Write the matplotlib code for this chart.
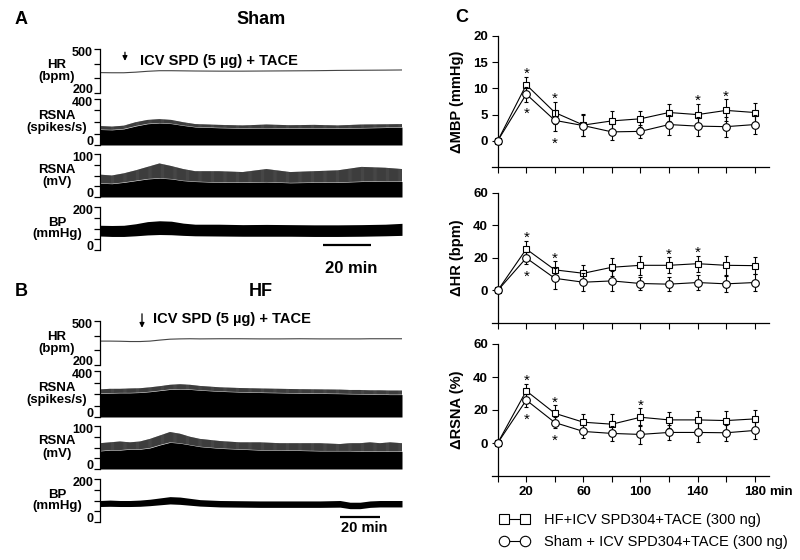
import matplotlib
matplotlib.use("Agg")
import matplotlib.pyplot as plt
from matplotlib.lines import Line2D
import numpy as np

plt.rcParams['font.family'] = ['Liberation Sans', 'DejaVu Sans']
plt.rcParams['font.weight'] = 'bold'
plt.rcParams['axes.labelweight'] = 'bold'
plt.rcParams['axes.linewidth'] = 0.9
plt.rcParams['hatch.linewidth'] = 0.5

W, H = 800, 560

# Raw recordings, envelopes --------------------------------------------------
sham_t = [0, 5, 10, 15, 20, 25, 30, 35, 40, 50, 60, 70, 80, 90, 100, 110, 120, 127]
sham_hr = [339, 338, 338, 342, 348, 352, 352, 351, 350, 349, 349, 350, 351, 352, 354, 355, 356, 357]
sham_sp_core = [135, 132, 140, 165, 185, 192, 186, 170, 157, 150, 146, 148, 145, 147, 145, 148, 152, 155]
sham_sp_peak = [165, 160, 168, 198, 218, 225, 218, 198, 182, 175, 170, 178, 172, 175, 170, 178, 180, 182]
sham_mv_core = [32, 31, 34, 38, 42, 44, 42, 38, 36, 34, 34, 35, 33, 34, 34, 36, 37, 36]
sham_mv_peak = [52, 50, 55, 62, 70, 78, 72, 65, 60, 60, 58, 65, 58, 60, 62, 70, 68, 65]
sham_bp_hi = [115, 114, 115, 122, 132, 136, 134, 125, 120, 120, 118, 119, 118, 117, 117, 118, 120, 124]
sham_bp_lo = [65, 63, 63, 66, 70, 72, 71, 68, 66, 65, 64, 64, 64, 63, 63, 64, 66, 68]

hf_t = [0, 5, 10, 15, 20, 25, 30, 35, 40, 45, 50, 60, 70, 80, 90, 100, 110, 120, 125, 130, 135, 140, 145, 151]
hf_hr = [363, 363, 362, 360, 360, 363, 370, 376, 378, 379, 378, 379, 379, 378, 378, 379, 378, 378, 378, 378, 379, 379, 379, 379]
hf_sp_core = [205, 208, 210, 210, 213, 220, 230, 240, 243, 240, 233, 223, 217, 213, 210, 207, 205, 203, 201, 200, 198, 197, 195, 195]
hf_sp_peak = [240, 245, 245, 248, 250, 258, 268, 280, 285, 280, 270, 258, 252, 248, 245, 242, 240, 238, 235, 235, 232, 232, 230, 230]
hf_mv_core = [42, 44, 44, 46, 46, 49, 56, 62, 60, 56, 52, 48, 46, 44, 44, 43, 42, 42, 42, 41, 41, 41, 41, 41]
hf_mv_peak = [60, 62, 64, 62, 64, 70, 78, 86, 82, 75, 70, 65, 62, 62, 60, 60, 60, 58, 60, 60, 62, 60, 62, 60]
hf_bp_hi = [100, 102, 100, 100, 102, 106, 112, 118, 116, 110, 104, 100, 99, 98, 98, 98, 98, 100, 92, 92, 98, 100, 100, 100]
hf_bp_lo = [72, 73, 72, 72, 73, 76, 80, 84, 82, 78, 74, 70, 69, 68, 68, 68, 68, 69, 62, 62, 68, 70, 70, 70]

# Group data (mean +/- SE) ----------------------------------------------------
minutes = [0, 20, 40, 60, 80, 100, 120, 140, 160, 180]
mbp_hf = [0, 10.7, 5.4, 3.0, 3.8, 4.2, 5.4, 5.0, 5.8, 5.4]
mbp_hf_err = [0, 1.5, 2.1, 2.1, 1.9, 1.5, 1.6, 2.1, 2.1, 1.9]
mbp_sham = [0, 8.9, 3.9, 2.9, 1.7, 1.8, 3.1, 2.8, 2.7, 3.1]
mbp_sham_err = [0, 1.4, 2.0, 2.0, 1.6, 1.2, 1.9, 1.8, 1.9, 1.8]
hr_hf = [0, 25.5, 12.7, 10.6, 14.3, 15.5, 15.5, 16.5, 15.5, 15.3]
hr_hf_err = [0, 5.1, 5.3, 5.1, 5.5, 5.9, 4.9, 4.9, 5.9, 5.1]
hr_sham = [0, 20.0, 7.5, 5.1, 5.9, 4.3, 3.9, 4.9, 4.1, 4.9]
hr_sham_err = [0, 3.7, 6.5, 5.5, 6.3, 3.7, 4.3, 4.9, 5.1, 5.5]
rsna_hf = [0, 31.6, 18.0, 12.6, 11.4, 15.6, 14.0, 14.0, 13.6, 14.6]
rsna_hf_err = [0, 4.4, 5.0, 5.0, 6.0, 5.4, 5.0, 5.4, 5.6, 5.4]
rsna_sham = [0, 26.0, 12.4, 7.0, 5.8, 5.2, 6.4, 6.4, 6.2, 7.6]
rsna_sham_err = [0, 4.0, 3.4, 4.0, 4.4, 5.6, 4.4, 6.0, 4.8, 5.2]

mbp_hf_sig, mbp_sham_sig = [20, 40, 140, 160], [20, 40]
hr_hf_sig, hr_sham_sig = [20, 40, 120, 140], [20]
rsna_hf_sig, rsna_sham_sig = [20, 40, 100], [20, 40]

xtick_labels = ['', '20', '', '60', '', '100', '', '140', '', '180']
legend_labels = ['HF+ICV SPD304+TACE (300 ng)', 'Sham + ICV SPD304+TACE (300 ng)']


fig = plt.figure(figsize=(8, 5.6), dpi=100)


def px_axes(x0, y0, x1, y1):
	# axes from pixel box (top-left origin)
	return fig.add_axes([x0 / W, 1 - y1 / H, (x1 - x0) / W, (y1 - y0) / H])


def trace_axes(y0, y1, tmax, ylim, step, name):
	ax = px_axes(100, y0, 402, y1)
	ax.set_xlim(0, tmax)
	ax.set_ylim(*ylim)
	for s in ['top', 'right', 'bottom']:
		ax.spines[s].set_visible(False)
	ax.set_yticks(np.arange(ylim[0], ylim[1] + 1, step))
	ax.set_yticklabels([])
	ax.set_xticks([])
	ax.tick_params(axis='y', length=4, width=0.9)
	# end labels sit inside the axis span, as in the recording figure
	trans = ax.get_yaxis_transform()
	ax.annotate(str(ylim[1]), xy=(0, ylim[1]), xycoords=trans, xytext=(-5, -3),
				textcoords='offset points', ha='right', va='center', fontsize=9)
	ax.annotate(str(ylim[0]), xy=(0, ylim[0]), xycoords=trans, xytext=(-5, 2.5),
				textcoords='offset points', ha='right', va='center', fontsize=9)
	ax.text(-0.142, 0.5, name, transform=ax.transAxes, ha='center', va='center',
			fontsize=9.5, linespacing=1.0)
	return ax


def spikes(ax, t, core, peak):
	ax.fill_between(t, core, peak, facecolor='#9a9a9a', edgecolor='#222222',
					hatch='|' * 18, lw=0)
	ax.fill_between(t, 0, core, color='black', lw=0)


def draw_traces(dy, t, hr, sp_core, sp_peak, mv_core, mv_peak, bp_lo, bp_hi,
				letter, title, drug_t, arrow_y, text_y, text_dx, bar_t, bar_text_dy, bar_fs):
	tmax = t[-1]
	ax_hr = trace_axes(49 + dy, 93 + dy, tmax, (200, 500), 100, 'HR\n(bpm)')
	ax_sp = trace_axes(99 + dy, 145 + dy, tmax, (0, 400), 100, 'RSNA\n(spikes/s)')
	ax_mv = trace_axes(154 + dy, 197 + dy, tmax, (0, 100), 25, 'RSNA\n(mV)')
	ax_bp = trace_axes(207 + dy, 250 + dy, tmax, (0, 200), 50, 'BP\n(mmHg)')

	ax_hr.plot(t, hr, color='#444444', lw=0.8)
	spikes(ax_sp, t, sp_core, sp_peak)
	spikes(ax_mv, t, mv_core, mv_peak)
	ax_bp.fill_between(t, bp_lo, bp_hi, color='black', lw=0)

	# drug injection
	ax_hr.annotate('', xy=(drug_t, arrow_y[1]), xytext=(drug_t, arrow_y[0]),
				   arrowprops=dict(arrowstyle='-|>', color='black', lw=0.9, mutation_scale=7),
				   annotation_clip=False)
	ax_hr.annotate('ICV SPD (5 µg) + TACE', xy=(drug_t, text_y), xytext=(text_dx, 0),
				   textcoords='offset points', ha='left', va='center', fontsize=10.5,
				   annotation_clip=False)

	# time scale bar
	ax_bp.plot([bar_t, bar_t + 20], [22, 22], color='black', lw=1.6,
			   solid_capstyle='butt', clip_on=False)
	ax_bp.annotate('20 min', xy=(bar_t + 12, 22), xytext=(0, -bar_text_dy),
				   textcoords='offset points', ha='center', va='center', fontsize=bar_fs,
				   annotation_clip=False)

	fig.text(15 / W, 1 - (20 + dy) / H, letter, fontsize=13, ha='left', va='center')
	fig.text(261 / W, 1 - (20 + dy) / H, title, fontsize=13, ha='center', va='center')


draw_traces(0, sham_t, sham_hr, sham_sp_core, sham_sp_peak, sham_mv_core, sham_mv_peak,
			sham_bp_lo, sham_bp_hi, 'A', 'Sham', 10.5, (497, 400), 418, 11, 93.8, 16.5, 12)
draw_traces(272, hf_t, hf_hr, hf_sp_core, hf_sp_peak, hf_mv_core, hf_mv_peak,
			hf_bp_lo, hf_bp_hi, 'B', 'HF', 21, (568, 435), 517, 8, 120, 8, 10.5)


def stat_axes(y0, y1, hf, hf_err, sham, sham_err, ylim, yticks, ylabel, hf_sig, sham_sig, bottom):
	ax = px_axes(492, y0, 769, y1)
	kw = dict(color='black', mfc='white', mec='black', mew=0.8, lw=0.8,
			  elinewidth=0.8, capsize=1.6, capthick=0.8, clip_on=False)
	ax.errorbar(minutes, hf, yerr=hf_err, fmt='-s', ms=5, zorder=3, **kw)
	ax.errorbar(minutes, sham, yerr=sham_err, fmt='-o', ms=5.5, zorder=4, **kw)

	for m in hf_sig:
		i = minutes.index(m)
		ax.annotate('*', xy=(m, hf[i] + hf_err[i]), xytext=(0, -1), textcoords='offset points',
					ha='center', va='baseline', fontsize=11, fontweight='normal')
	for m in sham_sig:
		i = minutes.index(m)
		ax.annotate('*', xy=(m, sham[i] - sham_err[i]), xytext=(0, -12), textcoords='offset points',
					ha='center', va='baseline', fontsize=11, fontweight='normal')

	ax.set_xlim(-4, 190)
	ax.set_ylim(*ylim)
	ax.spines['left'].set_position(('data', 0))
	ax.spines['top'].set_visible(False)
	ax.spines['right'].set_visible(False)
	ax.set_yticks(yticks)
	ax.set_xticks(minutes)
	ax.set_xticklabels(xtick_labels if bottom else [''] * len(minutes))
	ax.tick_params(length=4, width=0.8, labelsize=9.5, pad=3)
	ax.set_ylabel(ylabel, fontsize=10.5)
	ax.yaxis.set_label_coords(-0.10, 0.5)
	if bottom:
		ax.annotate('min', xy=(180, ylim[0]), xytext=(10.5, -7), textcoords='offset points',
					ha='left', va='top', fontsize=9.5)
	return ax


stat_axes(36, 167, mbp_hf, mbp_hf_err, mbp_sham, mbp_sham_err, (-5, 20), [0, 5, 10, 15, 20],
		  'ΔMBP (mmHg)', mbp_hf_sig, mbp_sham_sig, False)
stat_axes(193, 323, hr_hf, hr_hf_err, hr_sham, hr_sham_err, (-20, 60), [0, 20, 40, 60],
		  'ΔHR (bpm)', hr_hf_sig, hr_sham_sig, False)
stat_axes(344, 476, rsna_hf, rsna_hf_err, rsna_sham, rsna_sham_err, (-20, 60), [0, 20, 40, 60],
		  'ΔRSNA (%)', rsna_hf_sig, rsna_sham_sig, True)

fig.text(455 / W, 1 - 18 / H, 'C', fontsize=13, ha='left', va='center')

handles = [Line2D([], [], color='black', marker='s', mfc='white', mec='black', ms=7, lw=0.8, mew=0.8),
		   Line2D([], [], color='black', marker='o', mfc='white', mec='black', ms=7.5, lw=0.8, mew=0.8)]
fig.legend(handles, legend_labels, loc='upper left', bbox_to_anchor=(500 / W, 1 - 513 / H),
		   frameon=False, numpoints=2, handlelength=2.0, handletextpad=1.0,
		   labelspacing=0.55, borderpad=0, borderaxespad=0,
		   prop={'size': 10.5, 'weight': 'normal'})

fig.savefig('out.png', dpi=100)
